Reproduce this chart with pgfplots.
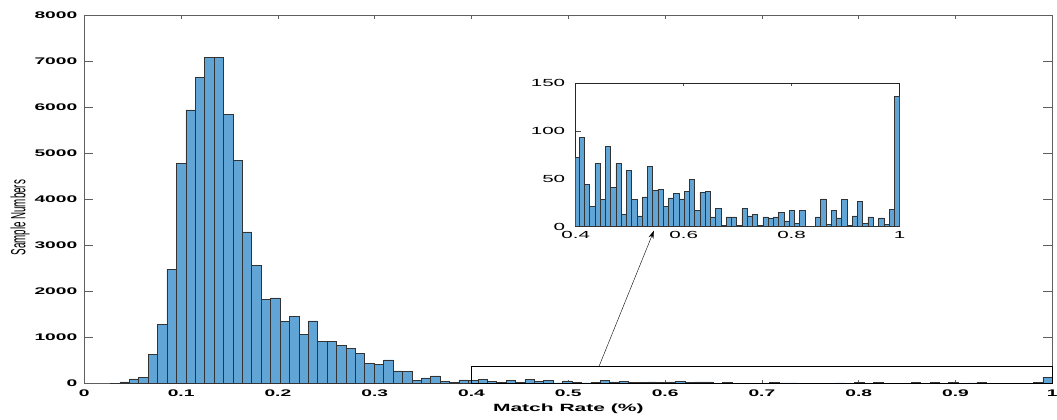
\documentclass[border=0pt]{standalone}
\usepackage{fontspec}
\setmainfont{Liberation Sans}
\usepackage{graphicx}
\usepackage{pgfplots}
\pgfplotsset{compat=1.18}
\usepackage{pgfplotstable}
\usetikzlibrary{arrows.meta}
\newfontfamily\wfont{Liberation Sans}[FakeStretch=2.0]
\definecolor{barblue}{RGB}{96,165,214}
\definecolor{axgray}{RGB}{95,95,95}

\pgfplotstableread{
x y
0.03186 10
0.04159 35
0.05132 100
0.06105 140
0.07078 640
0.08051 1290
0.09024 2470
0.09997 4780
0.10970 5940
0.11943 6650
0.12916 7080
0.13889 7080
0.14862 5850
0.15835 4850
0.16808 3290
0.17781 2570
0.18754 1820
0.19727 1860
0.20700 1355
0.21673 1465
0.22646 1073
0.23619 1362
0.24592 914
0.25565 914
0.26538 835
0.27511 762
0.28484 661
0.29457 437
0.30430 412
0.31403 513
0.32376 275
0.33349 267
0.34322 65
0.35295 123
0.36268 166
0.37241 50
0.38214 22
0.39187 80
}\mainlow

\pgfplotstableread{
x y
0.40160 72
0.41133 93
0.42106 44
0.43079 21
0.44052 66
0.45025 28
0.45998 84
0.46971 41
0.47944 66
0.48917 13
0.49890 59
0.50863 28
0.51836 11
0.52809 31
0.53782 63
0.54755 38
0.55728 39
0.56701 21
0.57674 30
0.58647 35
0.59620 29
0.60593 37
0.61566 49
0.62539 17
0.63512 36
0.64485 37
0.65458 10
0.66431 19
0.67404 1
0.68377 10
0.69350 10
0.70323 1
0.71296 19
0.72269 11
0.73242 13
0.74215 1
0.75188 10
0.76161 9
0.77134 10
0.78107 15
0.79080 6
0.80053 17
0.81026 3
0.81999 17
0.82972 0
0.83945 0
0.84918 10
0.85891 29
0.86864 2
0.87837 17
0.88810 9
0.89783 28
0.90756 1
0.91729 11
0.92702 26
0.93675 3
0.94648 10
0.95621 0
0.96594 9
0.97567 2
0.98540 18
0.99513 136
}\tail

\begin{document}
\begin{tikzpicture}
\useasboundingbox (-84.3bp,-36.5bp) rectangle (972.7bp,383.5bp);
\begin{axis}[
  at={(0,0)}, anchor=south west,
  scale only axis, width=968bp, height=368.5bp,
  xmin=0, xmax=1, ymin=0, ymax=8000,
  clip=false,
  xtick={0,0.1,0.2,0.3,0.4,0.5,0.6,0.7,0.8,0.9,1},
  ytick={0,1000,2000,3000,4000,5000,6000,7000,8000},
  scaled ticks=false,
  /pgf/number format/assume math mode=true,
  /pgf/number format/1000 sep={},
  tick label style={font=\fontsize{9.6bp}{10bp}\wfont\bfseries},
  xticklabel style={yshift=-3bp},
  yticklabel style={xshift=-3.5bp},
  tick align=inside,
  axis line style={axgray, line width=0.6bp},
  tick style={axgray, line width=0.6bp},
  xtick style={/pgfplots/major tick length=4bp},
  ytick style={/pgfplots/major tick length=9bp},
  xlabel={Match Rate (\%)},
  xlabel style={font=\fontsize{10.5bp}{12bp}\wfont\bfseries, at={(axis description cs:0.5,-0.069)}, anchor=center},
  ylabel={\scalebox{1}[2.1]{Sample Numbers}},
  ylabel style={font=\fontsize{9.8bp}{11bp}\selectfont, at={(axis description cs:-0.0664,0.45)}, anchor=center},
]
\addplot[ybar, bar width=0.00973, bar shift=0pt, fill=barblue, draw=black!80, line width=0.5bp] table[x=x,y=y]{\mainlow};
\addplot[ybar, bar width=0.00973, bar shift=0pt, fill=barblue, draw=black!80, line width=0.5bp] table[x=x,y=y]{\tail};
\draw[black, line width=0.8bp] (axis cs:0.4,0) rectangle (axis cs:1,365);
\draw[-{Stealth[length=8bp,width=5bp]}, line width=0.4bp] (axis cs:0.5316,365) -- (axis cs:0.5885,3320);
\end{axis}

\begin{axis}[
  at={(491.4bp,157bp)}, anchor=south west,
  scale only axis, width=323.8bp, height=143.5bp,
  xmin=0.4, xmax=1, ymin=0, ymax=150,
  axis background/.style={fill=white},
  xtick={0.4,0.6,0.8,1},
  ytick={0,50,100,150},
  /pgf/number format/assume math mode=true,
  tick label style={font=\fontsize{10.3bp}{11bp}\wfont},
  xticklabel style={yshift=-1.5bp},
  yticklabel style={xshift=-7bp},
  tick align=inside,
  axis line style={black!85, line width=0.6bp},
  tick style={black!70, line width=0.5bp},
  xtick style={/pgfplots/major tick length=3bp},
  ytick style={/pgfplots/major tick length=5bp},
]
\addplot[ybar, bar width=0.00973, bar shift=0pt, fill=barblue, draw=black!80, line width=0.5bp] table[x=x,y=y]{\tail};
\end{axis}
\end{tikzpicture}
\end{document}
